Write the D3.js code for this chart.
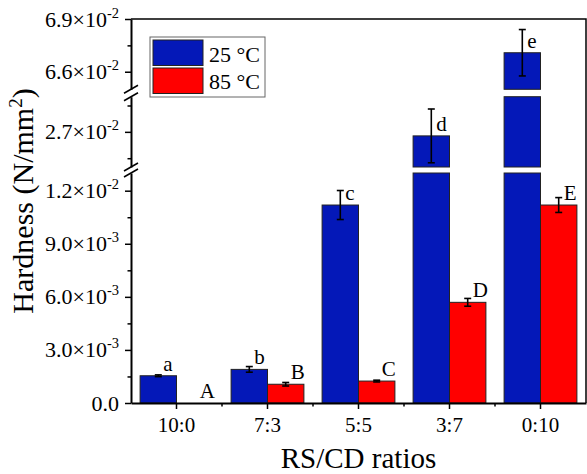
<!DOCTYPE html>
<html>
<head>
<meta charset="utf-8">
<script src="https://cdn.jsdelivr.net/npm/d3@7"></script>
<style>
  body { margin: 0; background: #fff; }
  text { font-family: "Liberation Serif", "Times New Roman", serif; fill: #000; }
</style>
</head>
<body>
<script>
// data
var categories = ["10:0", "7:3", "5:5", "3:7", "0:10"];
var series = ["25 °C", "85 °C"];
var hard25 = [0.00154, 0.00190, 0.01119, 0.02677, 0.06708];
var err25 = [0.00005, 0.00016, 0.00082, 0.00153, 0.00132];
var hard85 = [0, 0.00106, 0.00124, 0.00569, 0.01119];
var err85 = [0, 0.00010, 0.00005, 0.00022, 0.00042];
var letters25 = ["a", "b", "c", "d", "e"];
var letters85 = ["A", "B", "C", "D", "E"];
var yMajor = [0, 0.003, 0.006, 0.009, 0.012, 0.027, 0.066, 0.069];
var yMinor = [0.0015, 0.0045, 0.0075, 0.0105, 0.0255, 0.0285, 0.0675];

var width = 587, height = 474;
var plotL = 131, plotR = 586, plotT = 19, plotB = 403;
var colors = ["#0418b8", "#ff0000"];

// broken y axis: three pieces sharing the same px per unit
var segments = [
  { domain: [0, 0.013], range: [plotB, 173] },
  { domain: [0.025, 0.029], range: [167, 96.7] },
  { domain: [0.065, 0.069], range: [89.3, plotT] }
];
segments.forEach(function(s) {
  s.scale = d3.scaleLinear().domain(s.domain).range(s.range);
});
function segOf(v) {
  return segments.find(function(s) { return v >= s.domain[0] && v <= s.domain[1]; }) || segments[0];
}
function y(v) { return segOf(v).scale(v); }

var x = d3.scaleBand().domain(categories).range([plotL, plotR]);
var xs = d3.scaleBand().domain(series).range([0, x.bandwidth()]).paddingOuter(0.25);

var svg = d3.select("body").append("svg")
    .attr("width", width)
    .attr("height", height);

// rows: one per bar
var rows = [];
categories.forEach(function(c, i) {
  rows.push({ cat: c, s: 0, v: hard25[i], e: err25[i], lab: letters25[i] });
  rows.push({ cat: c, s: 1, v: hard85[i], e: err85[i], lab: letters85[i] });
});

// bars, cut into pieces at the breaks
rows.forEach(function(d) {
  var bx = x(d.cat) + xs(series[d.s]);
  segments.forEach(function(seg) {
    if (d.v <= seg.domain[0]) return;
    var y0 = seg.scale(seg.domain[0]),
        y1 = seg.scale(Math.min(d.v, seg.domain[1]));
    svg.append("rect")
        .attr("x", bx)
        .attr("y", y1)
        .attr("width", xs.bandwidth())
        .attr("height", y0 - y1)
        .attr("fill", colors[d.s])
        .attr("stroke", "#222")
        .attr("stroke-width", 1);
  });
});

// error bars
rows.filter(function(d) { return d.e > 0; }).forEach(function(d) {
  var cx = x(d.cat) + xs(series[d.s]) + xs.bandwidth() / 2,
      yLo = y(d.v - d.e), yHi = y(d.v + d.e);
  var g = svg.append("g").attr("stroke", "#000").attr("stroke-width", 1.6);
  g.append("line").attr("x1", cx).attr("x2", cx).attr("y1", yLo).attr("y2", yHi);
  g.append("line").attr("x1", cx - 3.5).attr("x2", cx + 3.5).attr("y1", yLo).attr("y2", yLo);
  g.append("line").attr("x1", cx - 3.5).attr("x2", cx + 3.5).attr("y1", yHi).attr("y2", yHi);
});

// significance letters
svg.selectAll("text.lab")
  .data(rows)
  .enter().append("text")
    .attr("class", "lab")
    .attr("x", function(d) { return x(d.cat) + xs(series[d.s]) + xs.bandwidth() / 2 + 5; })
    .attr("y", function(d) { return y(d.v) - 5; })
    .attr("font-size", 21)
    .text(function(d) { return d.lab; });

// y axis pieces
function sciLabel(sel) {
  sel.each(function(d) {
    var t = d3.select(this).text(null).attr("font-size", 22);
    if (d === 0) { t.text("0.0"); return; }
    var ex = Math.floor(Math.log10(d) + 1e-9),
        m = (d / Math.pow(10, ex)).toFixed(1);
    t.append("tspan").text(m + "×10");
    t.append("tspan").attr("font-size", 14.5).attr("dy", -9).text(String(ex));
  });
}
segments.forEach(function(seg) {
  var inSeg = function(v) { return v >= seg.domain[0] && v <= seg.domain[1]; };
  var gMinor = svg.append("g").attr("transform", "translate(" + plotL + ",0)");
  gMinor.call(d3.axisLeft(seg.scale).tickValues(yMinor.filter(inSeg))
      .tickSize(3.5).tickSizeOuter(0).tickFormat(""));
  gMinor.select("path.domain").remove();
  gMinor.selectAll(".tick line").attr("stroke-width", 1.5);

  var g = svg.append("g").attr("transform", "translate(" + plotL + ",0)");
  g.call(d3.axisLeft(seg.scale).tickValues(yMajor.filter(inSeg))
      .tickSize(6).tickSizeOuter(0).tickPadding(6));
  g.attr("font-size", 22).attr("font-family", null);
  g.selectAll("path.domain").attr("stroke-width", 2);
  g.selectAll(".tick line").attr("stroke-width", 1.5);
  g.selectAll(".tick text").call(sciLabel);
});

// break marks
for (var k = 0; k < segments.length - 1; k++) {
  [segments[k].range[1], segments[k + 1].range[0]].forEach(function(yy) {
    svg.append("line")
        .attr("x1", plotL - 7).attr("y1", yy + 4)
        .attr("x2", plotL + 7).attr("y2", yy - 4)
        .attr("stroke", "#000").attr("stroke-width", 1.6);
  });
}

// x axis
var gx = svg.append("g").attr("transform", "translate(0," + plotB + ")");
gx.call(d3.axisBottom(x).tickSize(6).tickSizeOuter(0).tickPadding(8));
gx.attr("font-size", 21).attr("font-family", null);
gx.select("path.domain").attr("stroke-width", 2);
gx.selectAll(".tick line").attr("stroke-width", 1.5);
gx.selectAll("line.minor")
  .data(categories.slice(1))
  .enter().append("line")
    .attr("class", "minor")
    .attr("x1", function(d) { return x(d); })
    .attr("x2", function(d) { return x(d); })
    .attr("y1", 0).attr("y2", 3.5)
    .attr("stroke", "#000").attr("stroke-width", 1.5);

// frame top/right
svg.append("path")
    .attr("d", "M" + plotL + "," + plotT + "H" + plotR + "V" + plotB)
    .attr("fill", "none").attr("stroke", "#000").attr("stroke-width", 1.5);

// legend
var lg = svg.append("g").attr("transform", "translate(150,37)");
lg.append("rect").attr("width", 115).attr("height", 60)
    .attr("fill", "#fff").attr("stroke", "#666").attr("stroke-width", 1);
series.forEach(function(s, i) {
  lg.append("rect").attr("x", 3).attr("y", 3 + i * 28).attr("width", 50).attr("height", 25.5)
      .attr("fill", colors[i]).attr("stroke", "#222").attr("stroke-width", 1);
  lg.append("text").attr("x", 59).attr("y", 24.5 + i * 27.6).attr("font-size", 22).text(s);
});

// axis titles
svg.append("text")
    .attr("x", (plotL + plotR) / 2).attr("y", 468)
    .attr("text-anchor", "middle").attr("font-size", 29)
    .text("RS/CD ratios");

var yt = svg.append("text")
    .attr("transform", "translate(33,201) rotate(-90)")
    .attr("text-anchor", "middle").attr("font-size", 30);
yt.append("tspan").text("Hardness (N/mm");
yt.append("tspan").attr("font-size", 19).attr("dy", -11).text("2");
yt.append("tspan").attr("dy", 11).text(")");
</script>
</body>
</html>
